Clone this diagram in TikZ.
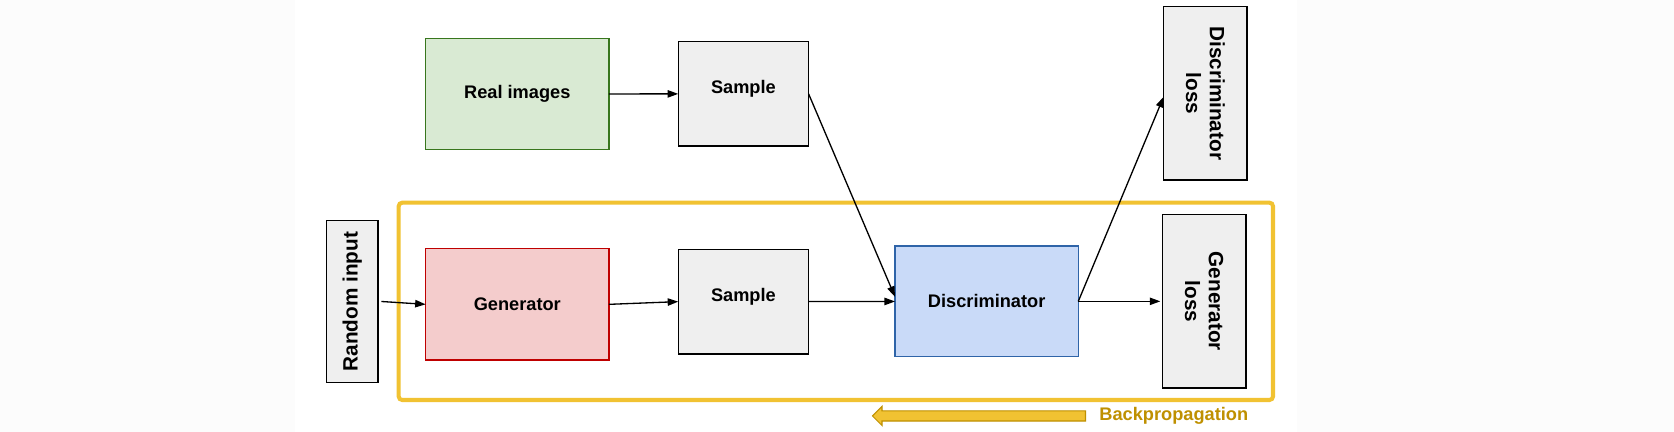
\documentclass[tikz,border=0pt]{standalone}
\usepackage{fontspec}
\setmainfont{Liberation Sans}
\usetikzlibrary{arrows.meta, fit, backgrounds, shapes.arrows}
\definecolor{realfill}{HTML}{D9EAD3}
\definecolor{realdraw}{HTML}{38761D}
\definecolor{genfill}{HTML}{F4CCCC}
\definecolor{gendraw}{HTML}{BF0000}
\definecolor{discfill}{HTML}{C9DAF8}
\definecolor{discdraw}{HTML}{2F64A8}
\definecolor{boxgrey}{HTML}{EFEFEF}
\definecolor{frameyellow}{HTML}{F1C232}
\definecolor{bpdark}{HTML}{BF9000}
\definecolor{bgout}{HTML}{FCFCFC}

\begin{document}
\begin{tikzpicture}[
      >={Triangle[length=6pt, width=4.2pt]},
      block/.style={rectangle, draw=black, fill=boxgrey, line width=0.75pt, align=center, inner sep=1pt, outer sep=0pt, font=\fontsize{10.36}{12.4}\selectfont\bfseries},
      realbox/.style={block, draw=realdraw, fill=realfill, minimum width=3.664cm, minimum height=2.228cm},
      genbox/.style={block, draw=gendraw, fill=genfill, minimum width=3.664cm, minimum height=2.226cm},
      discbox/.style={block, draw=discdraw, fill=discfill, minimum width=3.666cm, minimum height=2.214cm},
      samplebox/.style={block, minimum width=2.608cm, minimum height=2.09cm, text height=0.26cm, text depth=0.26cm},
      tallbox/.style={block, font=\fontsize{11.8}{13.5}\selectfont\bfseries},
      lossbox/.style={tallbox, rotate=-90, minimum width=3.466cm, minimum height=1.67cm},
      flow/.style={->, line width=0.75pt},
      backarrow/.style={single arrow, shape border rotate=180, draw=bpdark, fill=frameyellow, line width=0.6pt, minimum height=4.26cm, minimum width=0.36cm, single arrow head extend=0.09cm, inner sep=0.09cm},
      bptext/.style={text=bpdark, font=\fontsize{10.36}{12.4}\selectfont\bfseries}
  ]
      \useasboundingbox (0,0) rectangle (33.48,8.64);
      % Backdrop
      \begin{scope}[on background layer]
          \fill[bgout] (0,0) rectangle (33.48,8.64);
          \fill[white] (5.9,0) rectangle (25.934,8.64);
      \end{scope}

      % Real branch
      \node[realbox] (real) at (10.346, 6.76) {Real images};
      \node[samplebox, minimum height=2.086cm] (sampT) at (14.868, 6.763) {Sample};

      % Generated branch
      \node[tallbox, rotate=90, minimum width=3.232cm, minimum height=1.022cm] (randin) at (7.047, 2.61) {Random input};
      \node[genbox] (gen) at (10.346, 2.553) {Generator};
      \node[samplebox, minimum height=2.094cm] (sampB) at (14.868, 2.607) {Sample};
      \node[discbox] (disc) at (19.733, 2.613) {Discriminator};

      % Losses
      \node[lossbox] (dloss) at (24.107, 6.773) {Discriminator\\loss};
      \node[lossbox, minimum height=1.674cm] (gloss) at (24.083, 2.613) {Generator\\loss};

      % Trained part
      \node[draw=frameyellow, line width=2.3pt, rounded corners=2pt, fit=(gen)(gloss), inner xsep=0.54cm, inner ysep=0.24cm] (trainbox) {};

      % Connectors
      \draw[flow] (real) -- (sampT);
      \draw[flow] (sampT.east) -- ([yshift=0.09cm]disc.west);
      \draw[flow] ([xshift=0.07cm]randin.south) -- (gen.west);
      \draw[flow] (gen.east) -- (sampB.west);
      \draw[flow] (sampB) -- (disc);
      \draw[flow] (disc.east) -- ([yshift=-0.07cm]dloss.south);
      \draw[flow] (disc.east) -- ([xshift=-0.04cm]gloss.south);

      % Backpropagation
      \node[backarrow] (bp) at (19.63, 0.32) {};
      \node[bptext] (bplabel) at (23.476, 0.32) {Backpropagation};
  \end{tikzpicture}
\end{document}
